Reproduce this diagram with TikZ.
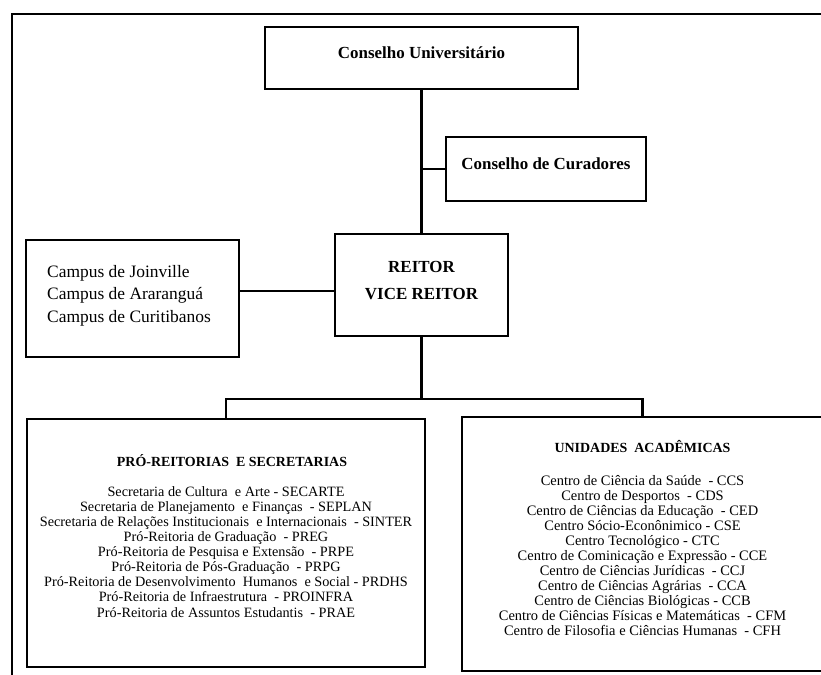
\documentclass[tikz,border=0pt]{standalone}
\usepackage{fontspec}
\setmainfont{Liberation Serif}
\begin{document}
\begin{tikzpicture}[x=1bp,y=-1bp,
  box/.style={draw, line width=2.2bp, inner sep=0pt},
  conn/.style={line width=2.2bp},
  frame/.style={line width=2.2bp},
  bigtxt/.style={font=\fontsize{17}{20}\selectfont\bfseries, inner sep=0pt, anchor=base},
  campustxt/.style={font=\fontsize{17.5}{22.5}\selectfont, align=left, inner sep=0pt, anchor=base west},
  ttl/.style={font=\fontsize{14}{16}\selectfont\bfseries, inner sep=0pt, anchor=base},
  lstA/.style={font=\fontsize{14.3}{15.1}\selectfont, align=center, inner sep=0pt, anchor=base},
  lstB/.style={font=\fontsize{14.5}{15}\selectfont, align=center, inner sep=0pt, anchor=base}]
\useasboundingbox (0,0) rectangle (821,675);
% outer frame
\coordinate (fb) at (12,677);
\coordinate (ft) at (12,14);
\coordinate (fr) at (823,14);
\draw[frame] (fb) -- (ft) -- (fr);
% boxes
\node[box, minimum width=313bp, minimum height=62bp] (cu) at (421.5,58) {};
\node[box, minimum width=200bp, minimum height=64bp] (cur) at (546,169) {};
\node[box, minimum width=173bp, minimum height=102bp] (reitor) at (421.5,285) {};
\node[box, minimum width=213bp, minimum height=117bp] (campus) at (132.5,298.5) {};
\node[box, minimum width=398bp, minimum height=248bp] (pro) at (226,543) {};
\node[box, minimum width=361bp, minimum height=254bp] (un) at (642.5,544) {};
% texts
\node[bigtxt] (tcu) at (421.5,58.5) {Conselho Universitário};
\node[bigtxt] (tcur) at (546,169) {Conselho de Curadores};
\node[bigtxt] (tre1) at (421.5,272) {REITOR};
\node[bigtxt] (tre2) at (421.5,299) {VICE REITOR};
\node[campustxt] (tcamp) at (47,322) {Campus de Joinville\\Campus de Araranguá\\Campus de Curitibanos};
\node[ttl] (tpro) at (232,466) {PRÓ-REITORIAS\ \ E SECRETARIAS};
\node[lstA] (lpro) at (226,617) {Secretaria de Cultura\ \ e Arte - SECARTE\\
Secretaria de Planejamento\ \ e Finanças\ \ - SEPLAN\\
Secretaria de Relações Institucionais\ \ e Internacionais\ \ - SINTER\\
Pró-Reitoria de Graduação\ \ - PREG\\
Pró-Reitoria de Pesquisa e Extensão\ \ - PRPE\\
Pró-Reitoria de Pós-Graduação\ \ - PRPG\\
Pró-Reitoria de Desenvolvimento\ \ Humanos\ \ e Social - PRDHS\\
Pró-Reitoria de Infraestrutura\ \ - PROINFRA\\
Pró-Reitoria de Assuntos Estudantis\ \ - PRAE};
\node[ttl] (tun) at (642.5,452) {UNIDADES\ \ ACADÊMICAS};
\node[lstB] (lun) at (642.5,635) {Centro de Ciência da Saúde\ \ - CCS\\
Centro de Desportos\ \ - CDS\\
Centro de Ciências da Educação\ \ - CED\\
Centro Sócio-Econônimico - CSE\\
Centro Tecnológico - CTC\\
Centro de Cominicação e Expressão - CCE\\
Centro de Ciências Jurídicas\ \ - CCJ\\
Centro de Ciências Agrárias\ \ - CCA\\
Centro de Ciências Biológicas - CCB\\
Centro de Ciências Físicas e Matemáticas\ \ - CFM\\
Centro de Filosofia e Ciências Humanas\ \ - CFH};
% connectors
\coordinate (cy) at (0,291);
\coordinate (j) at (421.5,399);
\draw[conn] (cu.south) -- (reitor.north);
\draw[conn] (cur.west) -- (cur.west -| cu.south);
\draw[conn] (campus.east |- cy) -- (reitor.west |- cy);
\draw[conn] (reitor.south) -- (j);
\draw[conn] (pro.north) -- (pro.north |- j) -- (un.north |- j) -- (un.north);
\end{tikzpicture}
\end{document}
